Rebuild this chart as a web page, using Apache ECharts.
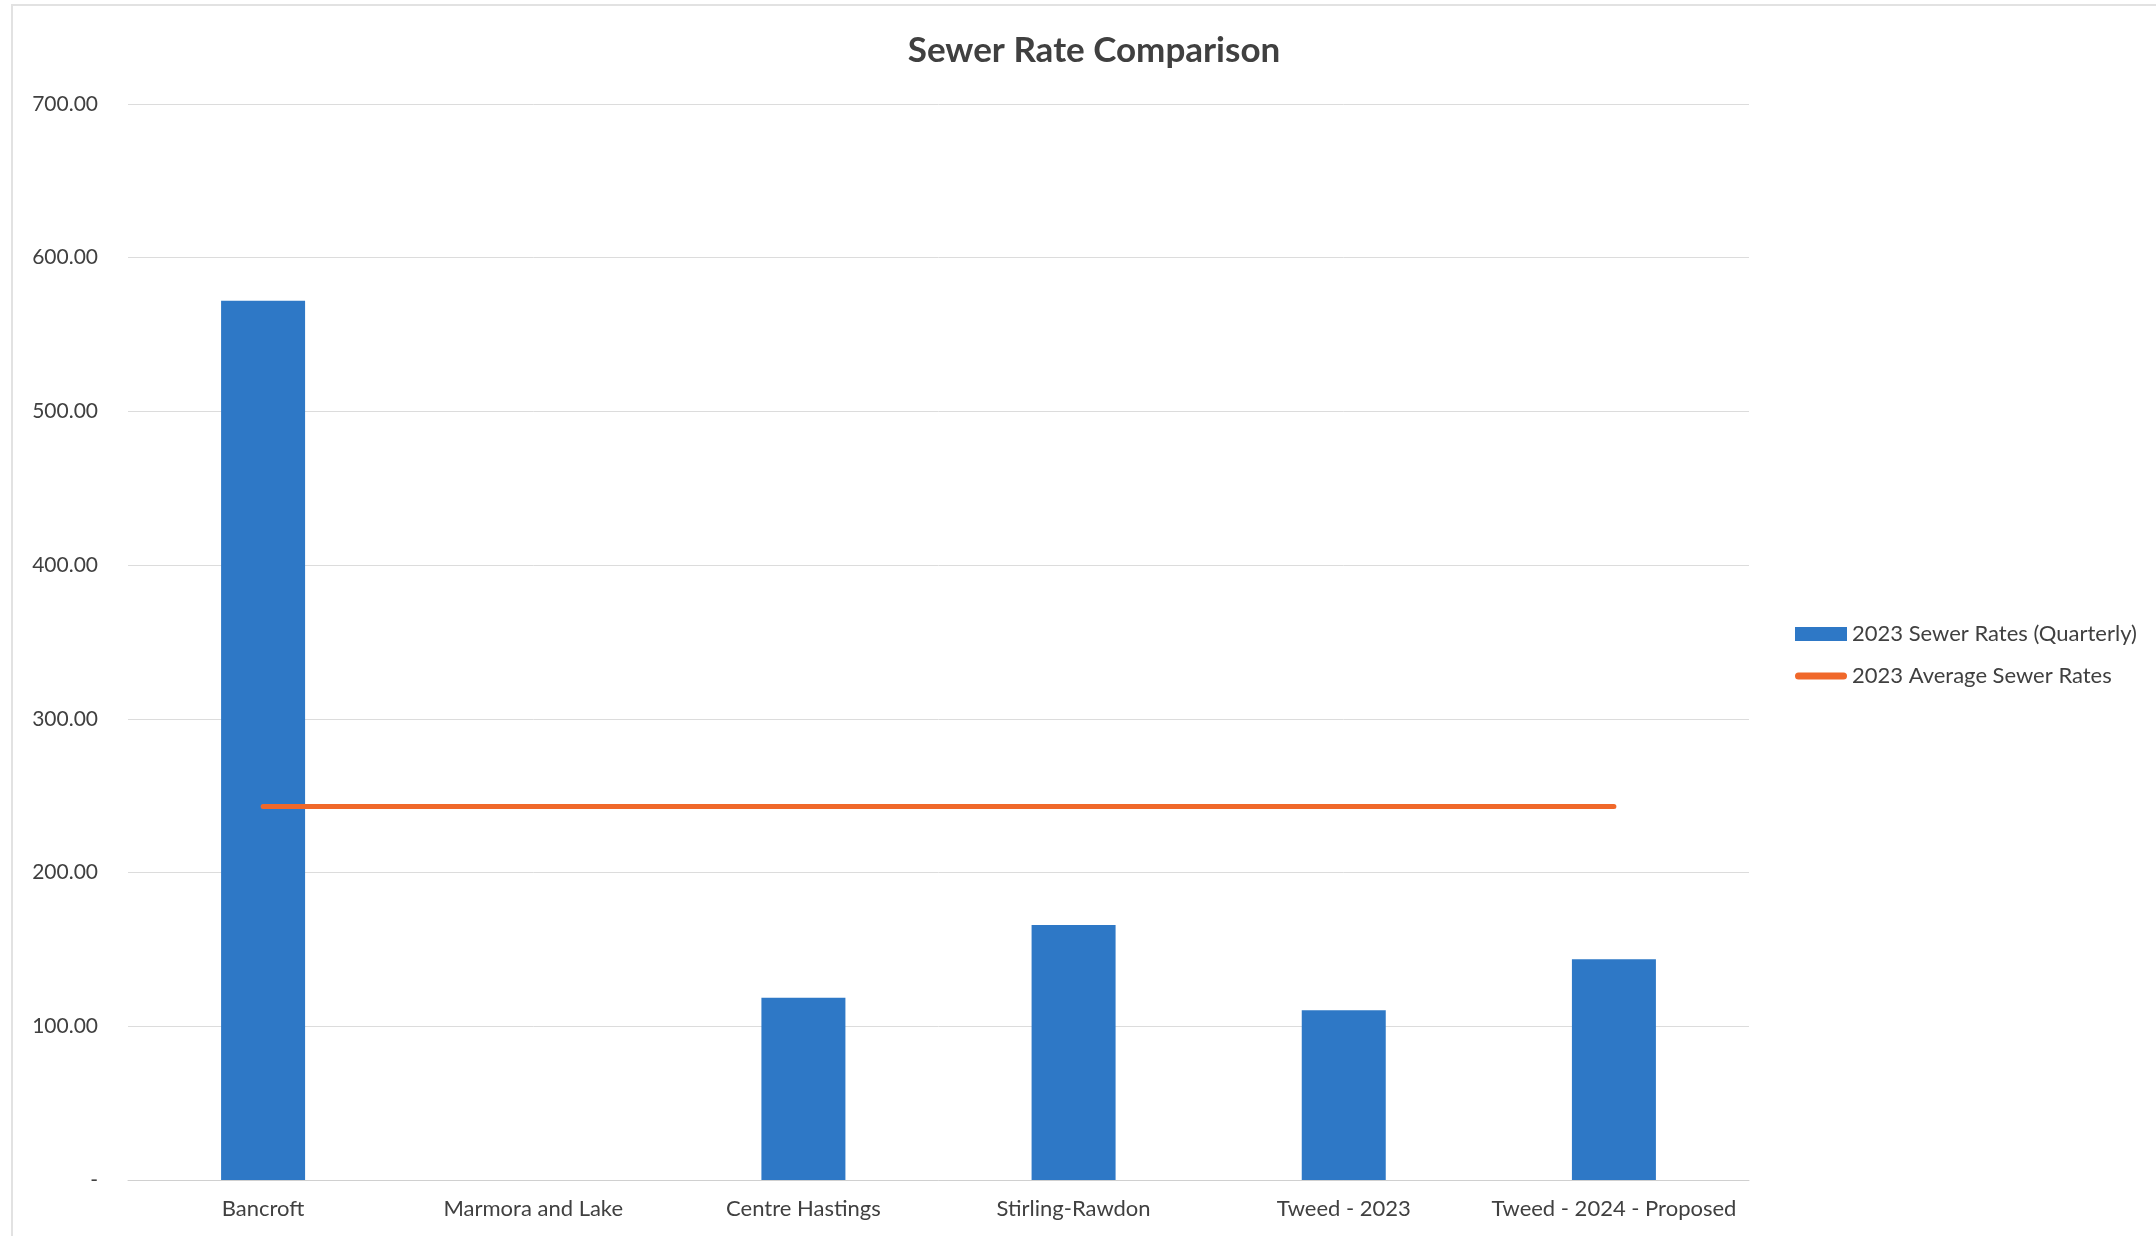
<!DOCTYPE html>
<html>
<head>
<meta charset="utf-8">
<script src="https://cdn.jsdelivr.net/npm/echarts@6/dist/echarts.min.js"></script>
<style>
html,body{margin:0;padding:0;background:#fff;}
#chart{width:2156px;height:1236px;}
</style>
</head>
<body>
<div id="chart"></div>
<script>
const categories = ['Bancroft', 'Marmora and Lake', 'Centre Hastings', 'Stirling-Rawdon', 'Tweed - 2023', 'Tweed - 2024 - Proposed'];
const sewerRates = [572, null, 118.6, 165.9, 110.4, 143.6];
const averageRates = [243, 243, 243, 243, 243, 243];
const yTicks = { min: 0, max: 700, interval: 100 };

const chart = echarts.init(document.getElementById('chart'));
const FONT = 'Lato, "Open Sans", sans-serif';
chart.setOption({
  backgroundColor: '#ffffff',
  animation: false,
  title: {
    text: 'Sewer Rate Comparison',
    left: 1089, top: 28, textAlign: 'center',
    textStyle: { fontFamily: FONT, fontSize: 35, fontWeight: 'bold', color: '#404040' }
  },
  graphic: [{
    type: 'rect', shape: { x: 12, y: 5, width: 2200, height: 1300 },
    style: { fill: 'none', stroke: '#e2e2e2', lineWidth: 2 }, silent: true
  }],
  legend: {
    orient: 'vertical', left: 1790, top: 618, itemGap: 20,
    itemWidth: 52, itemHeight: 14, symbolKeepAspect: true,
    textStyle: { fontFamily: FONT, fontSize: 22, color: '#404040' },
    data: [
      { name: '2023 Sewer Rates (Quarterly)', icon: 'rect' },
      { name: '2023 Average Sewer Rates', icon: 'path://M3.5,0 L48.5,0 A3.5,3.5 0 0 1 48.5,7 L3.5,7 A3.5,3.5 0 0 1 3.5,0 Z' }
    ]
  },
  grid: { left: 128, right: 407, top: 104, bottom: 56, containLabel: false },
  xAxis: {
    type: 'category', data: categories,
    axisLine: { show: true, lineStyle: { color: '#d0d0d0', width: 1 } },
    axisTick: { show: false },
    axisLabel: { fontFamily: FONT, fontSize: 22, color: '#404040', margin: 18, interval: 0 }
  },
  yAxis: {
    type: 'value', min: yTicks.min, max: yTicks.max, interval: yTicks.interval,
    axisLine: { show: false }, axisTick: { show: false },
    splitLine: { lineStyle: { color: '#dcdcdc', width: 1 } },
    axisLabel: {
      fontFamily: FONT, fontSize: 21, color: '#404040', margin: 30,
      formatter: v => v === 0 ? '-' : v.toFixed(2)
    }
  },
  series: [
    {
      name: '2023 Sewer Rates (Quarterly)', type: 'bar', data: sewerRates,
      barWidth: 84,
      itemStyle: { color: '#2e78c6' }
    },
    {
      name: '2023 Average Sewer Rates', type: 'line', data: averageRates,
      symbol: 'none', showSymbol: false,
      lineStyle: { color: '#f0682a', width: 5, cap: 'round' },
      itemStyle: { color: '#f0682a' }
    }
  ]
});
</script>
</body>
</html>
